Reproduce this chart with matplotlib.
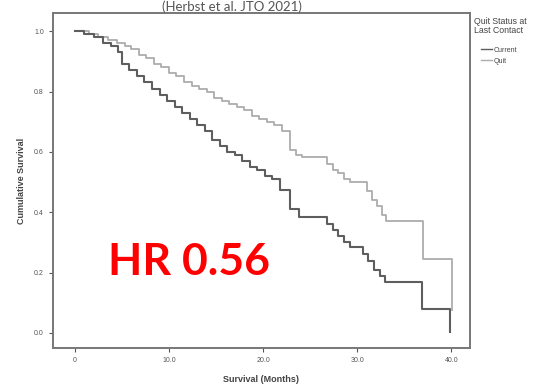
import matplotlib.pyplot as plt
from matplotlib.lines import Line2D

# Kaplan-Meier step data (months, cumulative survival)
cur_t = [0, 1.0, 2.0, 3.0, 3.8, 4.6, 5.0, 5.8, 6.6, 7.4, 8.2, 9.0, 9.8, 10.6,
         11.4, 12.2, 13.0, 13.8, 14.6, 15.4, 16.2, 17.0, 17.8, 18.6, 19.4,
         20.2, 21.0, 21.8, 22.9, 23.8, 26.8, 27.4, 28.0, 28.6, 29.2, 30.6,
         31.2, 31.8, 32.4, 33.0, 36.9, 39.9]
cur_s = [1.0, 0.99, 0.98, 0.96, 0.95, 0.93, 0.89, 0.87, 0.85, 0.83, 0.81, 0.79,
         0.77, 0.75, 0.73, 0.71, 0.69, 0.67, 0.64, 0.62, 0.60, 0.59, 0.57, 0.55,
         0.54, 0.52, 0.51, 0.474, 0.41, 0.384, 0.36, 0.34, 0.32, 0.30, 0.285,
         0.26, 0.24, 0.21, 0.19, 0.169, 0.079, 0.003]

quit_t = [0, 1.5, 2.5, 3.5, 4.5, 5.3, 6.0, 6.8, 7.6, 8.4, 9.2, 10.0, 10.8,
          11.6, 12.4, 13.2, 14.0, 14.8, 15.6, 16.4, 17.2, 18.0, 18.8, 19.6,
          20.4, 21.2, 22.0, 22.9, 23.5, 24.1, 26.8, 27.4, 28.0, 28.6, 29.2,
          31.1, 31.6, 32.1, 32.6, 33.1, 37.0, 40.1]
quit_s = [1.0, 0.99, 0.98, 0.97, 0.96, 0.95, 0.94, 0.92, 0.91, 0.89, 0.88, 0.86,
          0.85, 0.83, 0.82, 0.81, 0.80, 0.78, 0.77, 0.76, 0.75, 0.74, 0.72, 0.71,
          0.70, 0.69, 0.67, 0.606, 0.59, 0.583, 0.56, 0.54, 0.53, 0.51, 0.50,
          0.47, 0.44, 0.42, 0.39, 0.371, 0.245, 0.076]

x_ticks = [0, 10, 20, 30, 40]
x_labels = ['0', '10.0', '20.0', '30.0', '40.0']
y_ticks = [0.0, 0.2, 0.4, 0.6, 0.8, 1.0]

plt.rcParams['font.family'] = ['Liberation Sans', 'DejaVu Sans']

fig = plt.figure(figsize=(5.39, 3.85), dpi=100)
ax = fig.add_axes([0.098, 0.096, 0.774, 0.870])

ax.step(quit_t, quit_s, where='post', color='#adadad', lw=1.3)
ax.step(cur_t, cur_s, where='post', color='#5e5e5e', lw=1.5)

ax.set_xlim(-2.34, 42.0)
ax.set_ylim(-0.05, 1.06)
ax.set_xticks(x_ticks)
ax.set_xticklabels(x_labels)
ax.set_yticks(y_ticks)
ax.set_yticklabels(['%.1f' % v for v in y_ticks])
ax.tick_params(labelsize=5, colors='#555555', length=3, width=0.8)
for sp in ax.spines.values():
    sp.set_color('#777777')
    sp.set_linewidth(1.4)

ax.set_xlabel('Survival (Months)', fontsize=6.5, fontweight='bold',
              color='#444444', labelpad=8)
ax.set_ylabel('Cumulative Survival', fontsize=6.5, fontweight='bold',
              color='#444444', labelpad=6)

# legend: title as separate text, entries below it
fig.text(0.880, 0.957, 'Quit Status at\nLast Contact', fontsize=6.3,
         color='#444444', ha='left', va='top', linespacing=1.0)
handles = [Line2D([], [], color='#5e5e5e', lw=1),
           Line2D([], [], color='#adadad', lw=1)]
leg = fig.legend(handles, ['Current', 'Quit'], loc='upper left',
                 bbox_to_anchor=(0.893, 0.879), frameon=False,
                 fontsize=5, handlelength=1.5, handletextpad=0.3,
                 labelspacing=0.6, borderaxespad=0, borderpad=0)
for t in leg.get_texts():
    t.set_color('#444444')

ax.text(3.5, 0.192, 'HR 0.56', fontsize=32, fontweight='bold', color='#ff0000',
        family=['Lato', 'DejaVu Sans'])

fig.text(0.43, 0.999, '(Herbst et al. JTO 2021)', fontsize=9.5, color='#555555',
         ha='center', va='top', family=['Lato', 'DejaVu Sans'])

fig.savefig('out.png', dpi=100)
